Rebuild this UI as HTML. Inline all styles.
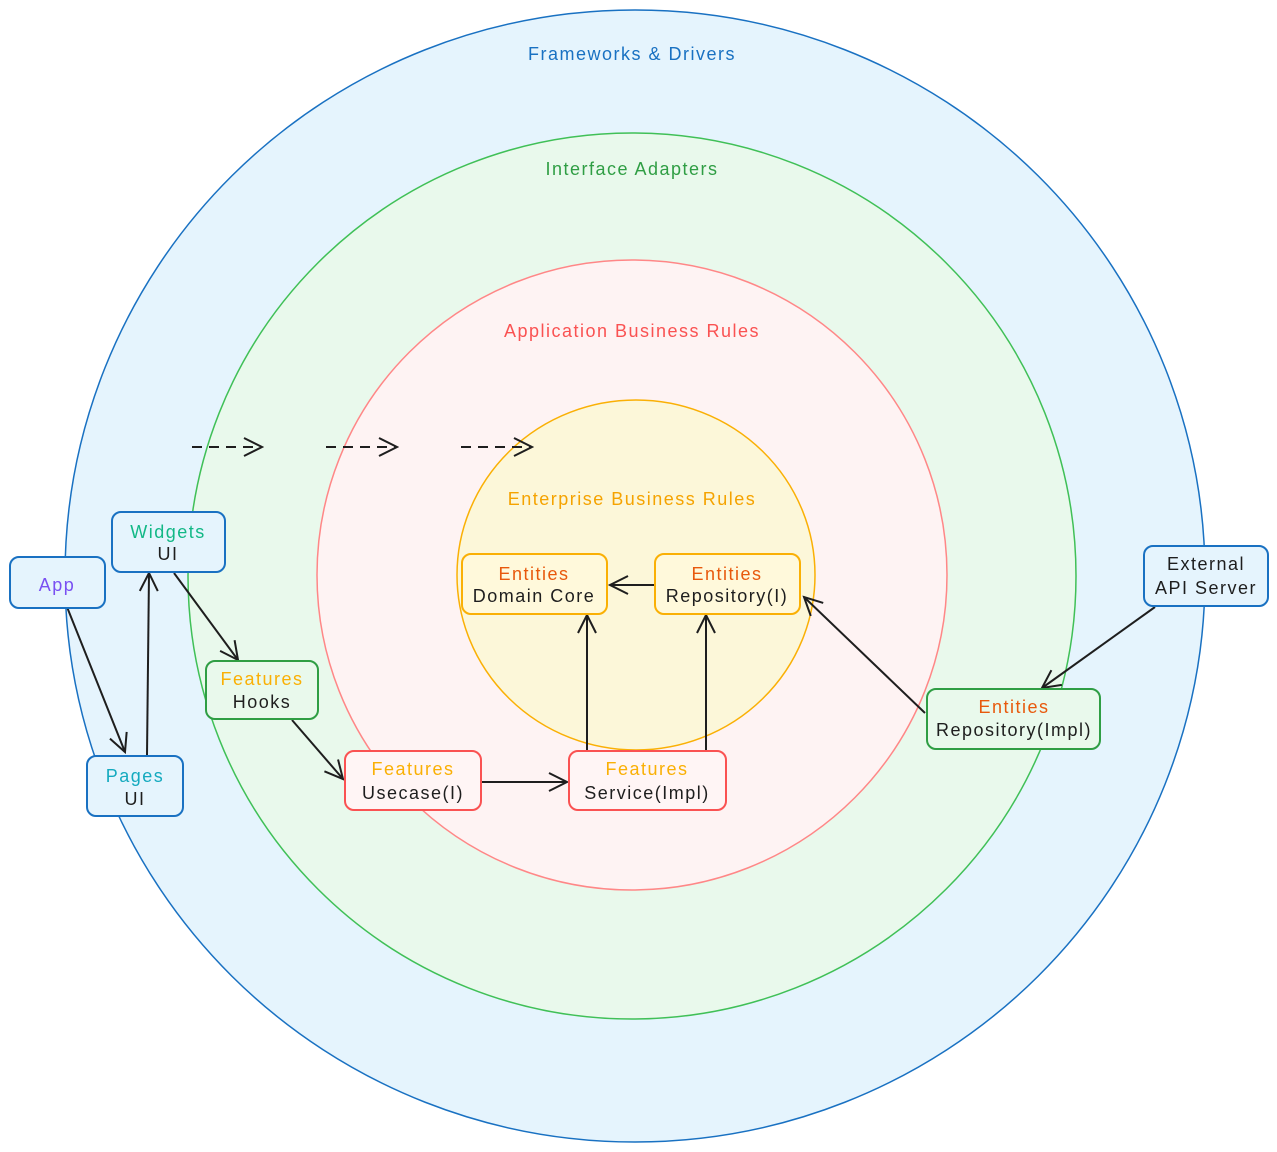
<!DOCTYPE html>
<html><head><meta charset="utf-8"><style>
html,body{margin:0;padding:0;background:#fff;}
svg{display:block;}
text{font-family:"Liberation Sans",sans-serif;font-size:18px;letter-spacing:1.5px;text-anchor:middle;}
</style></head><body>
<svg width="1277" height="1152" viewBox="0 0 1277 1152" xmlns="http://www.w3.org/2000/svg">
<defs>
<marker id="a" viewBox="0 0 22 22" refX="20" refY="11" markerWidth="22" markerHeight="22" markerUnits="userSpaceOnUse" orient="auto">
<path d="M2,2 L20,11 L2,20" fill="none" stroke="#1e1e1e" stroke-width="2"/>
</marker>
</defs>
<ellipse cx="635" cy="576" rx="570" ry="566" fill="#e5f4fd" stroke="#1971c2" stroke-width="1.5"/>
<ellipse cx="632" cy="576" rx="444" ry="443" fill="#e9f9ec" stroke="#40c057" stroke-width="1.5"/>
<ellipse cx="632" cy="575" rx="315" ry="315" fill="#fef3f3" stroke="#ff8787" stroke-width="1.5"/>
<ellipse cx="636" cy="575" rx="179" ry="175" fill="#fcf7d9" stroke="#fab005" stroke-width="1.5"/>

<text x="632" y="60" fill="#1971c2">Frameworks &amp; Drivers</text>
<text x="632" y="175" fill="#2f9e44">Interface Adapters</text>
<text x="632" y="337" fill="#fa5252">Application Business Rules</text>
<text x="632" y="505" fill="#f5a300">Enterprise Business Rules</text>

<g stroke="#1e1e1e" stroke-width="2" fill="none">
<line x1="192" y1="447" x2="262" y2="447" stroke-dasharray="10 7" marker-end="url(#a)"/>
<line x1="326" y1="447" x2="397" y2="447" stroke-dasharray="10 7" marker-end="url(#a)"/>
<line x1="461" y1="447" x2="532" y2="447" stroke-dasharray="10 7" marker-end="url(#a)"/>
<line x1="67" y1="607" x2="125" y2="752" marker-end="url(#a)"/>
<line x1="147" y1="755" x2="149" y2="573" marker-end="url(#a)"/>
<line x1="174" y1="573" x2="238" y2="660" marker-end="url(#a)"/>
<line x1="292" y1="720" x2="343" y2="779" marker-end="url(#a)"/>
<line x1="482" y1="782" x2="567" y2="782" marker-end="url(#a)"/>
<line x1="587" y1="750" x2="587" y2="615" marker-end="url(#a)"/>
<line x1="706" y1="750" x2="706" y2="615" marker-end="url(#a)"/>
<line x1="655" y1="585" x2="610" y2="585" marker-end="url(#a)"/>
<line x1="925" y1="713" x2="804" y2="597" marker-end="url(#a)"/>
<line x1="1155" y1="607" x2="1042" y2="688" marker-end="url(#a)"/>
</g>

<g stroke-width="2">
<rect x="10" y="557" width="95" height="51" rx="9" fill="#e5f4fd" stroke="#1971c2"/>
<rect x="112" y="512" width="113" height="60" rx="9" fill="#e5f4fd" stroke="#1971c2"/>
<rect x="87" y="756" width="96" height="60" rx="9" fill="#e5f4fd" stroke="#1971c2"/>
<rect x="1144" y="546" width="124" height="60" rx="9" fill="#e5f4fd" stroke="#1971c2"/>
<rect x="206" y="661" width="112" height="58" rx="9" fill="#e9f9ec" stroke="#2f9e44"/>
<rect x="927" y="689" width="173" height="60" rx="9" fill="#e9f9ec" stroke="#2f9e44"/>
<rect x="345" y="751" width="136" height="59" rx="9" fill="#fff5f5" stroke="#fa5252"/>
<rect x="569" y="751" width="157" height="59" rx="9" fill="#fff5f5" stroke="#fa5252"/>
<rect x="462" y="554" width="145" height="60" rx="9" fill="#fff9db" stroke="#fab005"/>
<rect x="655" y="554" width="145" height="60" rx="9" fill="#fff9db" stroke="#fab005"/>
</g>

<text x="57" y="591" fill="#7950f2">App</text>
<text x="168" y="538" fill="#12b886">Widgets</text><text x="168" y="560" fill="#1e1e1e">UI</text>
<text x="135" y="782" fill="#15aabf">Pages</text><text x="135" y="805" fill="#1e1e1e">UI</text>
<text x="1206" y="570" fill="#1e1e1e">External</text><text x="1206" y="594" fill="#1e1e1e">API Server</text>
<text x="262" y="685" fill="#fab005">Features</text><text x="262" y="708" fill="#1e1e1e">Hooks</text>
<text x="1014" y="713" fill="#e8590c">Entities</text><text x="1014" y="736" fill="#1e1e1e">Repository(Impl)</text>
<text x="413" y="775" fill="#fab005">Features</text><text x="413" y="799" fill="#1e1e1e">Usecase(I)</text>
<text x="647" y="775" fill="#fab005">Features</text><text x="647" y="799" fill="#1e1e1e">Service(Impl)</text>
<text x="534" y="580" fill="#e8590c">Entities</text><text x="534" y="602" fill="#1e1e1e">Domain Core</text>
<text x="727" y="580" fill="#e8590c">Entities</text><text x="727" y="602" fill="#1e1e1e">Repository(I)</text>
</svg>
</body></html>
